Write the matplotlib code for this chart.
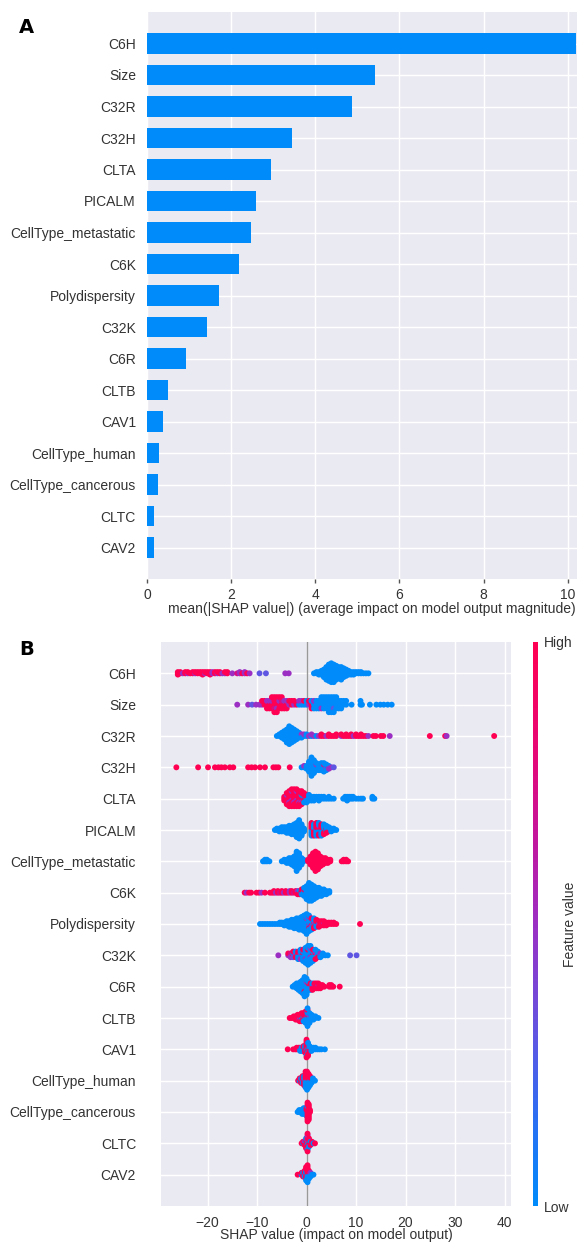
import numpy as np
import matplotlib

matplotlib.use("Agg")
import matplotlib.pyplot as plt
from matplotlib.cm import ScalarMappable
from matplotlib.colors import LinearSegmentedColormap, Normalize

plt.rcParams["font.family"] = ["Liberation Sans", "DejaVu Sans"]

FEATURES = ["C6H", "Size", "C32R", "C32H", "CLTA", "PICALM", "CellType_metastatic", "C6K",
            "Polydispersity", "C32K", "C6R", "CLTB", "CAV1", "CellType_human",
            "CellType_cancerous", "CLTC", "CAV2"]
MEAN_ABS_SHAP = [10.2, 5.42, 4.87, 3.45, 2.94, 2.6, 2.47, 2.19, 1.72, 1.43, 0.93,
                 0.5, 0.38, 0.28, 0.26, 0.17, 0.16]

# feature level of a group of samples: high, magenta, mid, violet, low
H, P, M, V, L = 1.0, 0.75, 0.5, 0.3, 0.0

# beeswarm rows: (shap value, number of samples, feature level)
SW_C6H = [(-26.0, 3, H), (-25.5, 2, H), (-25.0, 1, M), (-24.5, 2, H), (-24.0, 1, M), (-24.0, 1, H),
          (-23.5, 1, H), (-23.0, 2, H), (-22.5, 1, M), (-22.5, 1, H), (-22.0, 2, H), (-21.5, 2, H),
          (-21.0, 3, H), (-20.5, 1, M), (-20.5, 1, H), (-20.0, 2, H), (-19.5, 3, H), (-19.0, 2, M),
          (-18.5, 2, H), (-18.0, 1, M), (-18.0, 1, H), (-17.5, 2, H), (-17.0, 1, M), (-16.5, 1, M),
          (-16.5, 1, H), (-16.0, 2, H), (-15.0, 1, M), (-14.0, 1, P), (-13.5, 2, M), (-13.0, 1, H),
          (-12.5, 2, M), (-12.0, 1, H), (-11.5, 1, M), (-9.5, 1, V), (-8.2, 1, V), (-4.3, 1, M),
          (-3.6, 1, M),
          (1.5, 1, L), (2.0, 2, L), (2.5, 3, L), (3.0, 4, L), (3.5, 7, L), (4.0, 11, L), (4.5, 14, L),
          (5.0, 16, L), (5.5, 15, L), (6.0, 12, L), (6.5, 10, L), (7.0, 11, L), (7.5, 8, L),
          (8.0, 6, L), (8.5, 4, L), (9.0, 3, L), (9.5, 3, L), (10.0, 2, L), (10.5, 2, L),
          (11.0, 2, L), (11.5, 1, L), (12.0, 1, L), (12.5, 1, L)]
SW_SIZE = [(-14.0, 1, M), (-11.8, 1, M), (-11.0, 1, V), (-10.2, 1, M), (-9.5, 1, M), (-9.0, 1, H),
           (-9.0, 1, M), (-8.5, 2, H), (-8.0, 2, H), (-8.0, 1, M), (-7.5, 2, H), (-7.5, 1, M),
           (-7.0, 3, H), (-7.0, 1, M), (-6.5, 4, H), (-6.5, 1, P), (-6.0, 4, H), (-6.0, 1, M),
           (-5.5, 3, H), (-5.5, 1, M), (-5.0, 3, H), (-5.0, 1, P), (-4.5, 2, H), (-4.5, 1, M),
           (-4.0, 2, H), (-4.0, 1, M), (-3.5, 1, H), (-3.5, 1, M), (-3.0, 2, H), (-2.5, 1, M),
           (-2.5, 1, H), (-2.0, 1, H), (-1.5, 1, M), (-1.5, 1, L), (-1.0, 1, L), (-1.0, 1, M),
           (-0.5, 1, H), (-0.5, 1, L), (0.0, 2, L), (0.5, 1, H), (0.5, 1, M), (1.0, 2, H), (1.0, 1, L),
           (1.5, 1, M), (1.5, 2, L), (2.0, 3, L), (2.5, 3, L), (3.0, 3, L), (3.0, 1, M), (3.5, 4, L),
           (4.0, 4, L), (4.5, 5, L), (5.0, 5, L), (5.5, 4, L), (5.5, 1, V), (6.0, 4, L), (6.5, 3, L),
           (7.0, 3, L), (7.5, 2, L), (8.0, 2, L), (9.1, 1, L), (10.9, 2, L), (11.2, 1, L), (12.8, 1, L),
           (14.1, 1, L), (14.9, 1, L), (15.6, 1, L), (16.4, 1, L), (17.2, 1, L)]
SW_C32R = [(-6.0, 1, L), (-5.5, 2, L), (-5.0, 4, L), (-4.5, 6, L), (-4.0, 9, L), (-3.5, 12, L),
           (-3.0, 10, L), (-2.5, 8, L), (-2.0, 6, L), (-1.5, 4, L), (-1.0, 2, L), (-1.0, 1, M),
           (-0.5, 1, M), (-0.5, 1, L), (0.0, 2, L), (0.5, 1, M), (1.0, 1, M), (1.0, 1, L), (1.5, 1, M),
           (2.0, 1, L), (2.5, 1, M), (3.0, 2, H), (3.5, 1, H), (4.0, 1, M), (4.5, 2, H), (5.0, 1, H),
           (5.5, 1, H), (6.0, 2, H), (7.0, 1, H), (7.0, 1, M), (7.5, 1, H), (8.0, 2, H), (8.5, 1, H),
           (9.0, 2, H), (9.5, 1, M), (10.0, 2, H), (10.5, 1, H), (11.0, 2, H), (11.5, 1, H),
           (12.0, 1, H), (12.5, 1, M), (13.5, 1, H), (14.0, 1, H), (15.0, 1, H), (15.5, 1, H),
           (16.8, 1, M), (24.9, 1, H), (28.0, 1, H), (28.3, 1, M), (37.9, 1, H)]
SW_C32H = [(-26.3, 1, H), (-21.9, 1, H), (-19.9, 1, H), (-18.5, 1, H), (-17.8, 1, H), (-17.2, 1, H),
           (-16.5, 1, H), (-15.5, 1, H), (-14.8, 1, H), (-11.8, 1, H), (-11.1, 1, H), (-10.4, 1, H),
           (-9.4, 1, H), (-8.4, 1, H), (-6.7, 1, H), (-6.2, 1, H), (-5.7, 1, H), (-3.4, 1, H),
           (-1.0, 1, L), (-0.5, 1, L), (-0.5, 1, M), (0.0, 3, L), (0.5, 8, L), (1.0, 14, L),
           (1.5, 10, L), (2.0, 5, L), (2.0, 1, M), (2.5, 5, L), (3.0, 6, L), (3.5, 6, L), (3.5, 1, P),
           (4.0, 4, L), (4.0, 1, M), (4.5, 2, M), (4.5, 1, L), (5.0, 1, M), (5.5, 1, V)]
SW_CLTA = [(-4.5, 3, H), (-4.0, 6, H), (-4.0, 1, M), (-3.5, 8, H), (-3.5, 1, M), (-3.0, 8, H),
           (-3.0, 2, M), (-2.5, 9, H), (-2.5, 1, M), (-2.0, 8, H), (-2.0, 2, M), (-1.5, 8, H),
           (-1.5, 1, M), (-1.0, 6, H), (-1.0, 1, M), (-1.0, 1, L), (-0.5, 4, H), (-0.5, 2, L),
           (0.0, 2, H), (0.0, 3, L), (0.5, 4, L), (1.0, 3, L), (1.5, 3, L), (2.0, 2, L), (2.5, 3, L),
           (3.0, 2, L), (3.5, 2, L), (4.0, 1, L), (4.5, 2, L), (5.0, 1, L), (5.5, 1, L),
           (7.4, 1, L), (7.8, 2, L), (8.2, 3, L), (8.6, 2, L), (9.0, 2, L), (9.4, 2, L), (10.0, 1, L),
           (10.5, 1, L), (11.0, 1, L), (11.4, 1, L), (13.3, 2, L), (13.7, 1, L)]
SW_PICALM = [(-6.4, 1, L), (-6.0, 2, L), (-5.5, 3, L), (-5.0, 4, L), (-4.5, 4, L), (-4.0, 5, L),
             (-3.5, 6, L), (-3.0, 7, L), (-2.5, 8, L), (-2.0, 11, L), (-1.5, 14, L), (-1.0, 9, L),
             (-0.5, 3, L), (1.0, 5, H), (1.0, 5, L), (1.5, 5, H), (1.5, 4, L), (2.0, 5, H), (2.0, 5, L),
             (2.5, 4, H), (2.5, 5, L), (2.5, 1, M), (3.0, 4, H), (3.0, 5, L), (3.5, 3, H), (3.5, 5, L),
             (4.0, 2, H), (4.0, 4, L), (4.5, 1, H), (4.5, 3, L), (5.0, 3, L), (5.5, 2, L), (6.0, 1, L)]
SW_METASTATIC = [(-8.8, 1, L), (-8.4, 2, L), (-8.0, 2, L), (-7.5, 1, L), (-5.0, 1, L), (-4.5, 2, L),
                 (-4.0, 3, L), (-3.5, 4, L), (-3.0, 5, L), (-2.5, 7, L), (-2.0, 13, L), (-1.5, 10, L),
                 (-1.0, 5, L), (-0.6, 2, L), (0.3, 2, H), (0.8, 6, H), (1.3, 10, H), (1.8, 13, H),
                 (2.3, 11, H), (2.8, 7, H), (3.3, 5, H), (3.8, 4, H), (4.3, 3, H), (4.8, 2, H),
                 (7.1, 1, H), (7.5, 2, H), (8.0, 2, H), (8.4, 1, H)]
SW_C6K = [(-12.5, 1, H), (-12.1, 1, M), (-11.6, 1, H), (-11.2, 1, H), (-10.1, 1, H), (-9.6, 1, H),
          (-9.1, 1, M), (-8.4, 1, H), (-7.4, 1, H), (-7.0, 1, H), (-6.6, 2, H), (-6.2, 1, M),
          (-5.8, 2, H), (-5.4, 1, P), (-5.0, 2, H), (-4.6, 1, M), (-4.2, 2, H), (-3.8, 1, H),
          (-3.4, 2, M), (-3.0, 2, H), (-2.6, 1, P), (-2.2, 2, H), (-1.8, 2, H), (-1.8, 1, M),
          (-1.4, 2, H), (-1.4, 1, L), (-1.0, 2, H), (-1.0, 2, L), (-0.5, 1, H), (-0.5, 5, L),
          (0.0, 9, L), (0.5, 12, L), (1.0, 11, L), (1.5, 9, L), (2.0, 7, L), (2.5, 6, L), (3.0, 5, L),
          (3.5, 4, L), (4.0, 3, L), (4.6, 2, L)]
SW_POLYDISPERSITY = [(-9.4, 1, L), (-8.9, 1, L), (-8.4, 1, L), (-7.9, 1, L), (-7.4, 1, L), (-6.9, 1, L),
                     (-6.4, 1, L), (-5.9, 1, L), (-5.4, 2, L), (-5.0, 2, L), (-4.5, 3, L), (-4.0, 4, L),
                     (-3.5, 5, L), (-3.0, 6, L), (-2.5, 7, L), (-2.0, 8, L), (-1.5, 9, L), (-1.0, 10, L),
                     (-0.5, 12, L), (0.0, 14, L), (0.0, 1, M), (0.5, 9, L), (0.5, 2, M), (0.5, 1, H),
                     (1.0, 6, L), (1.0, 2, H), (1.0, 1, M), (1.5, 4, L), (1.5, 3, H), (1.5, 1, M),
                     (2.0, 3, L), (2.0, 3, H), (2.5, 1, L), (2.5, 3, H), (2.5, 1, M), (3.0, 4, H),
                     (3.5, 3, H), (3.5, 1, M), (4.0, 3, H), (4.5, 2, H), (5.0, 2, H), (5.5, 2, H),
                     (6.0, 1, H), (10.8, 1, H)]
SW_C32K = [(-5.7, 1, M), (-3.7, 1, H), (-3.7, 1, M), (-3.2, 1, P), (-3.2, 2, M), (-2.7, 2, H),
           (-2.7, 1, V), (-2.7, 1, L), (-2.2, 2, L), (-2.2, 1, H), (-2.2, 1, M), (-1.7, 3, L),
           (-1.7, 2, H), (-1.2, 4, L), (-1.2, 2, M), (-0.7, 5, L), (-0.7, 2, H), (-0.2, 8, L),
           (-0.2, 1, M), (0.3, 10, L), (0.3, 1, H), (0.8, 8, L), (0.8, 2, M), (1.3, 5, L), (1.3, 2, H),
           (1.8, 3, L), (1.8, 2, H), (1.8, 1, M), (2.3, 3, L), (2.3, 1, H), (2.8, 2, L), (2.8, 1, M),
           (3.3, 2, L), (3.8, 1, L), (4.3, 1, L), (8.8, 1, V), (10.1, 1, V)]
SW_C6R = [(-2.8, 1, L), (-2.4, 2, L), (-2.0, 4, L), (-1.6, 5, L), (-1.2, 7, L), (-0.8, 9, L),
          (-0.4, 12, L), (-0.4, 1, H), (0.0, 10, L), (0.0, 1, M), (0.4, 5, L), (0.4, 1, H), (0.8, 3, L),
          (0.8, 2, H), (1.2, 2, L), (1.2, 3, H), (1.6, 1, M), (1.6, 3, H), (2.0, 4, H), (2.4, 3, H),
          (2.4, 1, M), (2.8, 3, H), (3.2, 2, H), (3.6, 1, H), (4.6, 2, H), (5.0, 2, H), (5.4, 1, H),
          (6.7, 1, H)]
SW_CLTB = [(-3.4, 1, H), (-3.0, 1, H), (-2.6, 2, H), (-2.2, 3, H), (-1.8, 4, H), (-1.4, 4, H),
           (-1.4, 1, M), (-1.0, 5, H), (-1.0, 1, L), (-0.6, 4, H), (-0.6, 2, L), (-0.2, 4, H),
           (-0.2, 4, L), (0.2, 2, H), (0.2, 10, L), (0.6, 1, M), (0.6, 6, L), (1.0, 4, L), (1.4, 3, L),
           (1.8, 2, L), (2.4, 1, L)]
SW_CAV1 = [(-3.8, 1, H), (-2.7, 1, H), (-2.3, 1, H), (-2.0, 2, H), (-1.6, 2, H), (-1.3, 1, H),
           (-1.3, 2, L), (-1.0, 3, L), (-0.6, 2, L), (-0.6, 2, H), (-0.3, 3, H), (-0.3, 2, L),
           (0.0, 10, H), (0.0, 2, L), (0.3, 6, H), (0.3, 3, L), (0.6, 3, L), (0.6, 1, H), (1.0, 3, L),
           (1.4, 2, L), (1.8, 2, L), (2.2, 1, L), (2.6, 1, L), (3.0, 1, L), (3.7, 1, L)]
SW_HUMAN = [(-1.7, 1, H), (-1.4, 1, H), (-1.4, 1, L), (-1.1, 2, H), (-1.1, 1, L), (-0.8, 2, H),
            (-0.8, 2, L), (-0.5, 3, H), (-0.5, 2, L), (-0.2, 4, H), (-0.2, 4, L), (0.1, 5, L),
            (0.1, 4, H), (0.4, 4, L), (0.4, 3, H), (0.7, 3, L), (0.7, 2, H), (1.0, 2, L), (1.0, 1, H),
            (1.3, 2, L), (1.7, 1, L)]
SW_CANCEROUS = [(-1.8, 1, L), (-1.5, 2, L), (-1.2, 2, L), (-0.9, 3, L), (-0.6, 4, L), (-0.3, 4, L),
                (0.0, 3, L), (0.0, 2, H), (0.2, 10, H), (0.2, 1, L), (0.45, 9, H), (0.7, 2, H)]
SW_CLTC = [(-1.0, 1, H), (-0.7, 1, H), (-0.7, 1, L), (-0.4, 2, H), (-0.4, 1, M), (-0.1, 5, H),
           (-0.1, 2, L), (0.2, 8, H), (0.2, 2, M), (0.2, 2, L), (0.5, 4, H), (0.5, 2, L), (0.8, 2, H),
           (0.8, 1, L), (1.1, 2, H), (1.4, 1, L), (1.7, 1, H)]
SW_CAV2 = [(-1.8, 1, H), (-1.0, 1, H), (-1.0, 1, L), (-0.7, 2, H), (-0.7, 1, L), (-0.4, 2, L),
           (-0.4, 2, H), (-0.1, 5, H), (-0.1, 3, L), (0.2, 5, L), (0.2, 5, H), (0.5, 3, L), (0.5, 2, H),
           (0.8, 2, L), (0.8, 1, M), (1.1, 1, L), (1.4, 1, L)]

SWARMS = [SW_C6H, SW_SIZE, SW_C32R, SW_C32H, SW_CLTA, SW_PICALM, SW_METASTATIC, SW_C6K,
          SW_POLYDISPERSITY, SW_C32K, SW_C6R, SW_CLTB, SW_CAV1, SW_HUMAN, SW_CANCEROUS,
          SW_CLTC, SW_CAV2]

BG = "#EAEAF2"
TXT = "#333333"
BAR_BLUE = "#008bfb"
red_blue = LinearSegmentedColormap.from_list(
    "red_blue", [(0.0, "#008bfb"), (0.15, "#2a6ff3"), (0.3, "#5f56e2"), (0.5, "#9b2fc3"),
                 (0.65, "#c2169d"), (0.8, "#e50877"), (1.0, "#ff0052")])


def swarm_layout(entries, row_height=0.4):
    # stack samples sharing a shap value above/below the row line (shap-style beeswarm)
    groups = {}
    for x, n, level in entries:
        groups.setdefault(x, []).append((level, n))
    xs, ys, cs = [], [], []
    for x in sorted(groups):
        keyed = []
        for level, n in groups[x]:
            keyed += [((k + 0.5) / n, level) for k in range(n)]
        keyed.sort()
        for layer, (_, level) in enumerate(keyed):
            xs.append(x)
            ys.append(np.ceil(layer / 2) * ((layer % 2) * 2 - 1))
            cs.append(level)
    ys = np.array(ys, dtype=float)
    ys *= 0.9 * (row_height / np.max(ys + 1))
    return np.array(xs), ys, np.array(cs)


W, Hpx = 584, 1242


def box(left, top, right, bottom):
    return [left / W, 1 - bottom / Hpx, (right - left) / W, (bottom - top) / Hpx]


fig = plt.figure(figsize=(W / 100, Hpx / 100), dpi=100)
ax_a = fig.add_axes(box(147, 12, 577, 579))
ax_b = fig.add_axes(box(161, 642, 511, 1206))
cax = fig.add_axes(box(533, 642, 538, 1206))

pos = np.arange(len(FEATURES))[::-1]
FS = 10

# panel A: mean |SHAP|
ax_a.set_facecolor(BG)
ax_a.barh(pos, MEAN_ABS_SHAP, height=0.65, color=BAR_BLUE, zorder=3)
ax_a.set_xlim(0, 10.22)
ax_a.set_ylim(-1, 17)
ax_a.set_xticks(range(0, 11, 2))
ax_a.set_yticks(pos)
ax_a.set_yticklabels(FEATURES)
ax_a.grid(True, color="white", lw=1.0)
ax_a.set_axisbelow(True)
for s in ax_a.spines.values():
    s.set_visible(False)
ax_a.tick_params(axis="y", length=0, pad=8, labelsize=FS, labelcolor=TXT)
ax_a.tick_params(axis="x", length=3, width=1, color="#555555", pad=3.5, labelsize=FS, labelcolor=TXT)
ax_a.set_xlabel("mean(|SHAP value|) (average impact on model output magnitude)", fontsize=FS, color=TXT)
ax_a.xaxis.set_label_coords(0.523, -0.040)

# panel B: beeswarm
ax_b.set_facecolor(BG)
for p, entries in zip(pos, SWARMS):
    xs, ys, cs = swarm_layout(entries)
    ax_b.scatter(xs, p + ys, c=cs, cmap=red_blue, vmin=0, vmax=1, s=18, linewidths=0, zorder=3)
ax_b.axvline(0, color="#999999", lw=1, zorder=2)
ax_b.set_xlim(-29.4, 41.3)
ax_b.set_ylim(-1, 17)
ax_b.set_xticks(range(-20, 41, 10))
ax_b.set_yticks(pos)
ax_b.set_yticklabels(FEATURES)
ax_b.grid(True, color="white", lw=1.0)
ax_b.set_axisbelow(True)
for s in ax_b.spines.values():
    s.set_visible(False)
ax_b.tick_params(axis="y", length=0, pad=18, labelsize=FS, labelcolor=TXT)
ax_b.tick_params(axis="x", length=0, pad=7, labelsize=FS, labelcolor=TXT)
ax_b.set_xlabel("SHAP value (impact on model output)", fontsize=FS, color=TXT)
ax_b.xaxis.set_label_coords(0.5, -0.039)

cb = fig.colorbar(ScalarMappable(norm=Normalize(0, 1), cmap=red_blue), cax=cax, ticks=[0, 1])
cb.set_ticklabels(["Low", "High"])
cb.outline.set_visible(False)
cax.tick_params(length=0, pad=4, labelsize=FS, labelcolor=TXT)
fig.text(570 / W, 1 - 924 / Hpx, "Feature value", rotation=90, ha="center", va="center",
         fontsize=FS, color=TXT)

fig.text(19 / W, 1 - 33 / Hpx, "A", fontsize=14, fontweight="bold", family="DejaVu Sans")
fig.text(19 / W, 1 - 655 / Hpx, "B", fontsize=14, fontweight="bold", family="DejaVu Sans")

fig.savefig("out.png", dpi=100)
plt.close(fig)
